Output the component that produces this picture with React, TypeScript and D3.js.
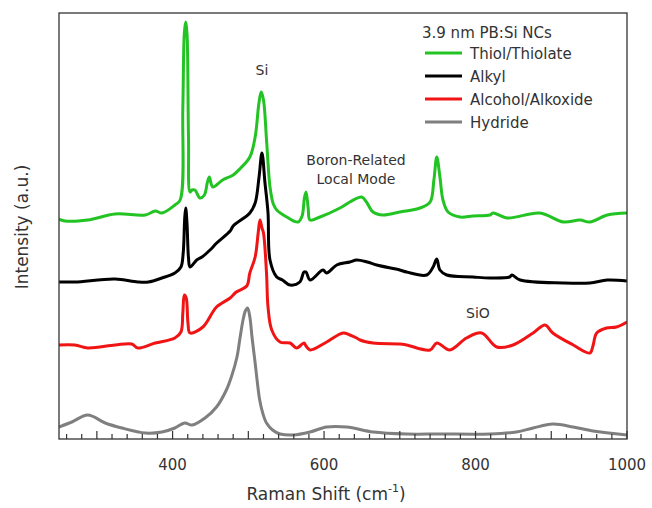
import React, { useEffect, useRef } from 'react';
import * as d3 from 'd3';

// Raman spectra, 3.9 nm PB:Si NCs (intensity in arbitrary units, offset per trace)
const thiolX = [250, 258, 288, 324, 364, 377, 386, 403, 410, 413.5, 415.5, 417.3, 419, 421, 423, 425.6, 429.6, 436, 442, 446, 448.5, 451, 453.4, 466, 480, 490, 502, 509, 514, 517, 520, 524.3, 528.6, 533, 537.5, 550.7, 565.6, 571, 574, 576.2, 579, 581.5, 594.7, 621, 634, 649.7, 656, 664.6, 677.8, 700, 726.7, 740, 745, 748.8, 753, 757, 763.7, 779.5, 796.7, 819, 823, 842, 885, 916, 938, 951, 974, 1000];
const thiolY = [219, 217, 218, 224, 223, 227, 225, 233, 238, 330, 405, 416, 405, 300, 246, 248, 248, 240, 243, 256, 261, 254, 251, 258, 263, 270, 281, 301, 335, 346, 338, 295, 251, 234, 228, 221, 216, 222, 240, 246, 230, 218, 221, 230, 236, 241, 236, 226, 223, 226, 230, 236, 258, 281, 261, 238, 226, 221, 222, 223, 225, 220, 225, 216, 218, 216, 223, 225];

const alkylX = [250, 271, 324, 354, 368, 386, 403, 411, 414, 416, 417.3, 419, 421, 423, 431.8, 438.8, 449.4, 458.2, 476, 480, 502, 509, 514, 518, 522, 526, 528.6, 537.5, 545, 555, 568, 573.5, 576.2, 581.5, 598.6, 603.5, 616.7, 634, 643, 657, 669.5, 700, 709, 735.5, 744, 748.8, 753, 762, 796.7, 819, 845, 848, 859, 916, 951, 974, 1000];
const alkylY = [156, 156, 159, 156, 156, 160, 165, 171, 185, 220, 230, 215, 180, 171, 178, 181, 188, 195, 207, 212, 225, 235, 260, 285, 255, 225, 178, 161, 158, 153, 156, 166, 166, 158, 168, 165, 173, 176, 178, 176, 173, 168, 166, 163, 171, 179, 168, 163, 161, 160, 161, 163, 158, 155, 155, 158, 157];

const alcoholX = [250, 271, 288, 324, 346, 354, 377, 403, 411, 413.5, 415.5, 418, 420.3, 423, 440, 458, 476, 484, 497.9, 502, 509, 513, 515.4, 518, 520, 524, 526, 530.9, 541.8, 555, 563.9, 573.5, 576.2, 581.5, 603.5, 625, 634, 643, 647.5, 664.6, 700, 709, 739.9, 748.8, 766, 788, 808, 828, 849.5, 876, 891.8, 902, 929, 951, 955, 960, 973, 986, 1000];
const alcoholY = [93, 93, 90, 93, 94, 90, 95, 100, 106, 125, 143, 140, 115, 105, 111, 131, 140, 146, 152, 165, 181, 205, 218, 210, 205, 165, 131, 108, 96, 95, 90, 95, 92, 88, 96, 105, 103, 100, 98, 95, 94, 93, 88, 95, 88, 100, 105, 91, 93, 105, 113, 105, 93, 85, 92, 105, 110, 111, 116];

const hydrideX = [250, 267, 288, 311, 333, 364, 386, 403, 416, 425.6, 442.8, 458, 471, 478, 485, 489, 493, 496, 499, 502, 505, 509, 512, 515, 519, 524, 532, 542, 559, 581.5, 603.5, 630, 665, 709, 753, 819, 854, 876, 902, 929, 955, 1000];
const hydrideY = [11, 16, 23, 15, 10, 5, 6, 10, 15, 13, 20, 31, 48, 62, 81, 100, 118, 127, 130, 121, 100, 75, 55, 38, 25, 15, 8, 4, 3, 6, 11, 11, 6, 4, 4, 4, 6, 10, 14, 11, 7, 3];

const seriesNames = ['Thiol/Thiolate', 'Alkyl', 'Alcohol/Alkoxide', 'Hydride'];
const seriesColors = ['#22c322', '#000000', '#f01414', '#7f7f7f'];
const xMajorTicks = [400, 600, 800, 1000];

const W = 652;
const H = 508;
const FONT = '"DejaVu Sans", sans-serif';

export default function App() {
    const ref = useRef<SVGSVGElement | null>(null);

    useEffect(() => {
        const svg = d3.select(ref.current);
        svg.selectAll('*').remove();

        const left = 59, right = 627, top = 13, bottom = 439;

        const x = d3.scaleLinear().domain([250, 1000]).range([left, right]);
        const y = d3.scaleLinear().domain([0, 425]).range([bottom - 1, top]);

        const xs = [thiolX, alkylX, alcoholX, hydrideX];
        const ys = [thiolY, alkylY, alcoholY, hydrideY];

        const line = d3
            .line<[number, number]>()
            .x((d) => x(d[0]))
            .y((d) => y(d[1]))
            .curve(d3.curveCatmullRom.alpha(0.5));

        const clip = svg.append('clipPath').attr('id', 'plot-clip');
        clip.append('rect').attr('x', left).attr('y', top).attr('width', right - left).attr('height', bottom - top);

        const plot = svg.append('g').attr('clip-path', 'url(#plot-clip)');
        // draw bottom trace first
        for (let i = 3; i >= 0; i--) {
            const pts = xs[i].map((v, j) => [v, ys[i][j]] as [number, number]);
            plot
                .append('path')
                .attr('d', line(pts))
                .attr('fill', 'none')
                .attr('stroke', seriesColors[i])
                .attr('stroke-width', 3)
                .attr('stroke-linejoin', 'round');
        }

        // frame
        svg
            .append('rect')
            .attr('x', left)
            .attr('y', top)
            .attr('width', right - left)
            .attr('height', bottom - top)
            .attr('fill', 'none')
            .attr('stroke', '#333')
            .attr('stroke-width', 1.3);

        // inward ticks on the bottom axis
        const minor = d3.range(260, 1000, 20).filter((v) => v % 100 !== 0);
        const major = d3.range(300, 1001, 100);
        const tg = svg.append('g').attr('stroke', '#333').attr('stroke-width', 1.2);
        minor.forEach((v) => {
            tg.append('line').attr('x1', x(v)).attr('x2', x(v)).attr('y1', bottom).attr('y2', bottom - 5);
        });
        major.forEach((v) => {
            tg.append('line').attr('x1', x(v)).attr('x2', x(v)).attr('y1', bottom).attr('y2', bottom - 8);
        });

        const text = svg.append('g').attr('font-family', FONT).attr('fill', '#333');

        xMajorTicks.forEach((v) => {
            text
                .append('text')
                .attr('x', x(v))
                .attr('y', 470)
                .attr('text-anchor', 'middle')
                .attr('font-size', 15)
                .text(v);
        });

        const xl = text
            .append('text')
            .attr('x', 326)
            .attr('y', 500)
            .attr('text-anchor', 'middle')
            .attr('font-size', 17);
        xl.append('tspan').text('Raman Shift (cm');
        xl.append('tspan').attr('font-size', 11).attr('dy', -8).text('-1');
        xl.append('tspan').attr('dy', 8).text(')');

        text
            .append('text')
            .attr('transform', `translate(28,227) rotate(-90)`)
            .attr('text-anchor', 'middle')
            .attr('font-size', 17)
            .text('Intensity (a.u.)');

        // peak annotations
        const ann = [
            { t: 'Si', x: 262, y: 75 },
            { t: 'Boron-Related', x: 356, y: 165 },
            { t: 'Local Mode', x: 356, y: 184 },
            { t: 'SiO', x: 478, y: 318 },
        ];
        ann.forEach((a) => {
            text
                .append('text')
                .attr('x', a.x)
                .attr('y', a.y)
                .attr('text-anchor', 'middle')
                .attr('font-size', 14)
                .text(a.t);
        });

        // legend
        text.append('text').attr('x', 422).attr('y', 38).attr('font-size', 15).text('3.9 nm PB:Si NCs');
        seriesNames.forEach((name, i) => {
            const ly = 53 + i * 23;
            svg
                .append('line')
                .attr('x1', 425)
                .attr('x2', 462)
                .attr('y1', ly)
                .attr('y2', ly)
                .attr('stroke', seriesColors[i])
                .attr('stroke-width', 3);
            text
                .append('text')
                .attr('x', 470)
                .attr('y', ly + 6)
                .attr('font-size', 15)
                .text(name);
        });
    }, []);

    return (
        <svg
            ref={ref}
            width={W}
            height={H}
            style={{ position: 'absolute', left: 0, top: 0, background: '#fff' }}
        />
    );
}
